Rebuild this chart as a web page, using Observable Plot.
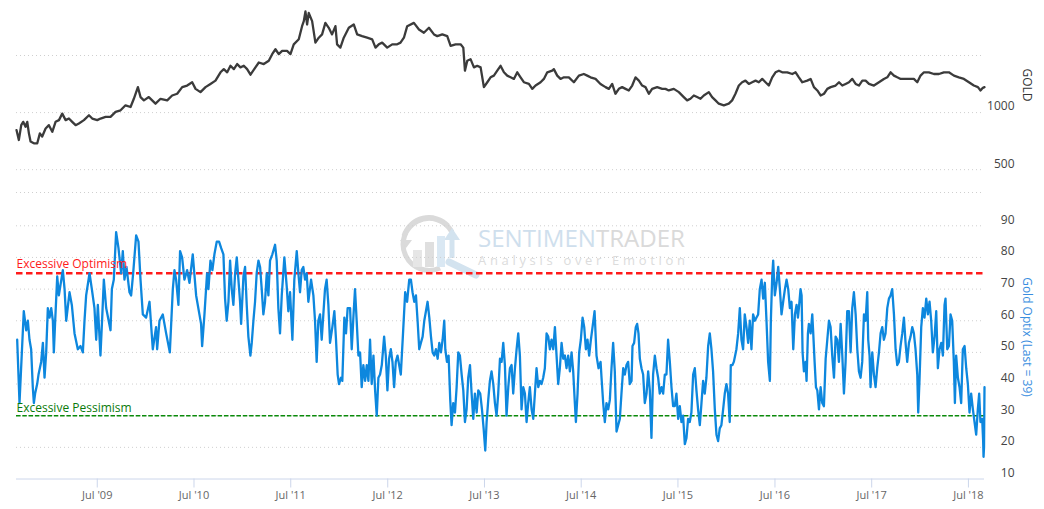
<!DOCTYPE html>
<html>
<head>
<meta charset="utf-8">
<script src="https://cdn.jsdelivr.net/npm/d3@7"></script>
<script src="https://cdn.jsdelivr.net/npm/@observablehq/plot@0.6"></script>
<style>
  html, body { margin: 0; padding: 0; background: #fff; }
  #wrap { position: relative; width: 1044px; height: 509px; overflow: hidden; font-family: "Open Sans", sans-serif; }
  #wm, #topPanel, #bottomPanel { position: absolute; left: 0; }
  #wm { top: 0; }
  #topPanel { top: 0; }
  #bottomPanel { top: 200px; }
  .ttl { position: absolute; white-space: nowrap; font-size: 12px; transform: translate(-50%, -50%) rotate(90deg); }
</style>
</head>
<body>
<div id="wrap">
  <svg id="wm" width="1044" height="509">
    <g opacity="0.9">
      <path d="M 452 232 A 26 26 0 1 0 440 268" fill="none" stroke="#d6d6d6" stroke-width="5"/>
      <path d="M 404 236 A 26 26 0 0 1 448 226" fill="none" stroke="#d6d6d6" stroke-width="5"/>
      <path d="M 449 262 L 476 275" stroke="#cfe0ee" stroke-width="7" stroke-linecap="round"/>
      <path d="M 452 258 L 452 236" stroke="#cfe0ee" stroke-width="5"/>
      <path d="M 444 240 L 452 228 L 460 240 Z" fill="#cfe0ee"/>
      <path d="M 400 240 L 406 248 L 412 240 Z" fill="#d6d6d6"/>
      <rect x="413" y="250" width="9" height="17" fill="#e4e4e4"/>
      <rect x="425" y="242" width="9" height="25" fill="#dcdcdc"/>
      <rect x="437" y="236" width="8" height="31" fill="#d7e6f2"/>
      <text x="478" y="247" font-family="Open Sans" font-size="24" textLength="207" lengthAdjust="spacingAndGlyphs"><tspan fill="#cadcec">SENTIMEN</tspan><tspan fill="#d6d6d6">TRADER</tspan></text>
      <text x="478" y="265" font-family="Open Sans" font-size="13" fill="#d9d9d9" textLength="207" lengthAdjust="spacing">Analysis over Emotion</text>
    </g>
  </svg>
  <div id="topPanel"></div>
  <div id="bottomPanel"></div>
  <div class="ttl" style="left:1027px; top:85px; color:#333;">GOLD</div>
  <div class="ttl" style="left:1027px; top:337px; color:#3a8ee0;">Gold Optix (Last = 39)</div>
</div>
<script>
// ---------------- data ----------------
const goldYears = [
2008.662,2008.686,2008.711,2008.731,2008.755,2008.773,2008.790,2008.807,2008.841,2008.876,
2008.903,2008.927,2008.962,2008.996,2009.031,2009.065,2009.100,2009.134,2009.169,2009.203,
2009.237,2009.272,2009.306,2009.358,2009.410,2009.444,2009.496,2009.530,2009.582,2009.633,
2009.685,2009.737,2009.788,2009.840,2009.874,2009.916,2009.943,2009.978,2010.029,2010.098,
2010.150,2010.219,2010.270,2010.322,2010.374,2010.425,2010.477,2010.512,2010.563,2010.615,
2010.666,2010.718,2010.770,2010.804,2010.839,2010.873,2010.908,2010.942,2010.976,2011.011,
2011.045,2011.080,2011.131,2011.166,2011.217,2011.269,2011.304,2011.338,2011.372,2011.407,
2011.458,2011.493,2011.527,2011.579,2011.613,2011.631,2011.648,2011.665,2011.682,2011.717,
2011.751,2011.786,2011.820,2011.854,2011.889,2011.923,2011.958,2011.975,2012.009,2012.044,
2012.096,2012.147,2012.182,2012.233,2012.285,2012.337,2012.371,2012.405,2012.440,2012.492,
2012.543,2012.595,2012.629,2012.664,2012.698,2012.767,2012.819,2012.870,2012.922,2012.974,
2013.008,2013.060,2013.111,2013.146,2013.197,2013.249,2013.277,2013.294,2013.318,2013.352,
2013.387,2013.421,2013.456,2013.490,2013.525,2013.559,2013.593,2013.628,2013.662,2013.697,
2013.731,2013.766,2013.800,2013.835,
2013.869,2013.903,2013.955,2013.990,2014.024,2014.076,2014.110,2014.145,2014.196,2014.213,
2014.248,2014.282,2014.317,2014.368,2014.420,2014.472,2014.523,2014.558,2014.592,2014.644,
2014.695,2014.747,2014.782,2014.816,2014.850,2014.885,2014.919,2014.954,2014.988,2015.023,
2015.057,2015.092,2015.126,2015.160,2015.195,2015.229,2015.281,2015.333,2015.367,2015.401,
2015.453,2015.505,2015.556,2015.591,2015.625,2015.660,2015.694,2015.729,2015.763,2015.815,
2015.849,2015.884,2015.918,2015.970,2016.021,2016.056,2016.090,2016.125,2016.159,2016.193,
2016.228,2016.262,2016.297,2016.331,2016.366,2016.400,2016.434,2016.469,2016.503,2016.538,
2016.572,2016.624,2016.676,2016.710,2016.744,2016.779,2016.830,2016.865,2016.899,2016.934,
2016.968,2017.003,2017.037,2017.072,2017.123,2017.158,2017.192,2017.226,2017.261,2017.295,
2017.330,2017.364,2017.399,2017.433,2017.468,2017.519,2017.571,2017.622,2017.657,2017.691,
2017.726,2017.760,2017.795,2017.846,2017.898,2017.932,2017.967,2018.001,2018.036,2018.087,
2018.139,2018.191,2018.242,2018.294,2018.346,2018.397,2018.449,2018.501,2018.552,2018.594,
2018.621,2018.645,2018.662
];
const goldValues = [
847,760,890,919,876,919,818,746,731,731,
818,790,861,890,832,919,934,991,934,948,
919,890,905,934,977,948,934,948,962,962,
1006,1020,1064,1049,1121,1223,1136,1107,1136,1078,
1121,1107,1150,1165,1223,1237,1266,1208,1179,1223,
1251,1280,1353,1381,1353,1410,1381,1425,1396,1410,
1381,1332,1396,1439,1425,1454,1512,1555,1512,1540,
1540,1512,1598,1642,1757,1801,1887,1772,1873,1801,
1613,1656,1685,1786,1743,1685,1757,1598,1569,1656,
1743,1772,1685,1670,1656,1642,1569,1598,1613,1569,
1598,1598,1613,1656,1757,1786,1728,1699,1743,1685,
1670,1685,1670,1584,1598,1598,1569,1367,1454,1468,
1396,1410,1396,1223,1266,1309,1324,1367,1410,1353,
1324,1309,1295,1353,
1309,1266,1251,1208,1237,1266,1295,1353,1367,1381,
1324,1295,1309,1309,1266,1324,1338,1324,1309,1295,
1251,1223,1208,1251,1165,1208,1223,1208,1194,1237,
1309,1280,1237,1223,1165,1208,1223,1208,1208,1194,
1208,1179,1136,1107,1121,1150,1136,1121,1150,1179,
1136,1107,1078,1064,1078,1107,1165,1237,1266,1280,
1251,1266,1280,1266,1295,1266,1237,1309,1353,1367,
1353,1353,1338,1353,1309,1266,1280,1295,1223,1194,
1150,1165,1208,1223,1237,1266,1237,1251,1266,1295,
1251,1237,1280,1280,1251,1237,1266,1295,1309,1353,
1324,1309,1295,1295,1295,1295,1266,1324,1353,1353,
1338,1338,1353,1353,1324,1309,1295,1266,1237,1223,
1194,1217,1223
];

const optixYears = [
2008.669,2008.693,2008.737,2008.762,2008.779,2008.796,2008.813,2008.830,2008.841,2008.854,
2008.875,2008.889,2008.916,2008.934,2008.951,2008.968,2008.985,2009.003,2009.020,2009.037,
2009.047,2009.061,2009.082,2009.099,2009.140,2009.158,2009.175,2009.209,2009.233,2009.261,
2009.295,2009.323,2009.347,2009.364,2009.381,2009.416,2009.440,2009.467,2009.485,2009.502,
2009.529,2009.547,2009.564,2009.588,2009.633,2009.647,2009.667,2009.691,2009.715,2009.743,
2009.760,2009.777,2009.798,2009.829,2009.846,2009.867,2009.898,2009.922,2009.943,2009.967,
2010.001,2010.036,2010.070,2010.104,2010.115,2010.139,2010.173,2010.208,2010.246,2010.277,
2010.294,2010.311,2010.335,2010.352,2010.373,2010.397,2010.425,2010.449,2010.483,2010.518,
2010.552,2010.569,2010.580,2010.604,2010.631,2010.645,2010.666,2010.686,
2010.707,2010.731,2010.755,2010.776,2010.800,2010.817,2010.834,2010.852,2010.869,2010.886,
2010.903,2010.921,2010.938,2010.955,2010.972,2010.983,2011.007,2011.024,2011.041,2011.058,
2011.079,2011.093,2011.110,2011.127,2011.144,2011.162,2011.179,2011.196,2011.213,2011.230,
2011.248,2011.265,2011.282,2011.306,2011.334,2011.351,2011.368,2011.385,2011.403,2011.430,
2011.454,2011.471,2011.489,2011.513,2011.533,2011.558,2011.575,2011.592,2011.609,2011.626,
2011.644,2011.661,2011.678,2011.706,2011.730,2011.747,2011.764,2011.781,2011.799,2011.816,
2011.833,2011.850,2011.867,2011.885,2011.902,2011.926,2011.947,2011.964,2011.981,2011.995,
2012.016,2012.029,2012.050,2012.067,2012.084,2012.109,2012.126,2012.143,2012.160,2012.177,
2012.195,2012.212,2012.229,2012.246,2012.264,2012.281,2012.298,2012.315,2012.332,2012.350,
2012.367,2012.384,2012.401,2012.418,2012.436,2012.460,2012.477,2012.494,2012.511,2012.529,
2012.546,2012.563,2012.580,2012.598,2012.615,2012.632,2012.653,2012.677,2012.697,
2012.719,2012.736,2012.753,2012.771,2012.788,2012.805,2012.822,2012.839,2012.857,2012.874,
2012.891,2012.908,2012.926,2012.943,2012.960,2012.977,2012.994,2013.012,2013.029,2013.046,
2013.063,2013.080,2013.091,2013.108,2013.125,2013.142,2013.156,2013.173,2013.191,2013.208,
2013.225,2013.242,2013.260,2013.277,2013.294,2013.311,2013.328,2013.346,2013.363,2013.380,
2013.397,2013.415,2013.432,2013.452,2013.470,2013.487,2013.504,2013.518,2013.535,2013.552,
2013.569,2013.587,2013.604,2013.621,2013.638,2013.656,2013.673,2013.690,2013.707,2013.724,
2013.742,2013.759,2013.776,2013.793,2013.811,2013.828,2013.845,2013.862,2013.879,2013.897,
2013.914,2013.931,2013.948,2013.965,2013.983,2014.000,2014.017,2014.034,2014.052,2014.069,
2014.086,2014.103,2014.120,2014.138,2014.155,2014.172,2014.189,2014.207,2014.224,2014.241,
2014.258,2014.275,2014.293,2014.310,2014.327,2014.344,2014.361,2014.379,2014.396,2014.413,
2014.430,2014.441,2014.458,2014.475,2014.492,2014.510,2014.527,2014.544,2014.561,2014.578,
2014.596,2014.613,2014.634,2014.654,2014.675,2014.696,
2014.706,2014.723,2014.740,2014.757,2014.775,2014.792,2014.809,2014.826,2014.843,2014.861,
2014.878,2014.895,2014.912,2014.930,2014.947,2014.964,2014.981,2014.998,2015.016,2015.026,
2015.043,2015.060,2015.074,2015.088,2015.102,2015.119,2015.136,2015.153,2015.171,2015.188,
2015.205,2015.222,2015.239,2015.257,2015.274,2015.291,2015.308,2015.326,2015.343,2015.360,
2015.377,2015.394,2015.412,2015.429,2015.446,2015.463,2015.480,2015.498,2015.515,2015.532,
2015.549,2015.567,2015.584,2015.601,2015.618,2015.635,2015.653,2015.670,2015.687,2015.704,
2015.722,2015.739,2015.756,2015.773,2015.790,2015.808,2015.825,2015.842,2015.859,2015.877,
2015.894,2015.911,2015.928,2015.945,2015.963,2015.980,2015.997,2016.014,2016.031,2016.042,
2016.059,2016.073,2016.087,2016.100,2016.118,2016.135,2016.152,2016.169,2016.186,2016.204,
2016.221,2016.238,2016.255,2016.272,2016.290,2016.307,2016.324,2016.341,2016.359,2016.376,
2016.393,2016.410,2016.427,2016.445,2016.455,2016.469,2016.479,2016.496,2016.514,2016.531,
2016.548,2016.565,2016.582,2016.600,2016.617,2016.634,2016.651,2016.668,2016.686,2016.700,
2016.703,2016.720,2016.734,2016.744,2016.761,2016.772,2016.782,2016.796,2016.813,2016.823,
2016.837,2016.847,2016.865,2016.882,2016.892,2016.906,2016.920,2016.934,2016.951,2016.968,
2016.985,2017.002,2017.020,2017.037,2017.054,2017.071,2017.088,2017.106,2017.123,2017.140,
2017.157,2017.175,2017.192,2017.209,2017.226,2017.243,2017.261,2017.278,2017.295,2017.312,
2017.330,2017.347,2017.364,2017.381,2017.398,2017.416,2017.433,2017.450,2017.460,2017.474,
2017.484,2017.502,2017.519,2017.536,2017.553,2017.571,2017.588,2017.605,2017.622,2017.639,
2017.657,2017.674,2017.691,2017.708,2017.726,2017.743,2017.760,2017.777,2017.794,2017.812,
2017.829,2017.846,2017.863,2017.881,2017.898,2017.915,2017.932,2017.949,2017.967,2017.977,
2017.991,2018.008,2018.025,2018.042,2018.060,2018.077,2018.094,2018.111,2018.128,2018.146,
2018.163,2018.180,2018.197,2018.215,2018.232,2018.249,2018.259,2018.277,2018.294,2018.311,
2018.328,2018.345,2018.356,2018.369,2018.387,2018.404,2018.421,2018.438,2018.456,2018.473,
2018.490,2018.507,2018.524,2018.542,2018.559,2018.576,2018.593,2018.607,2018.620,2018.638,
2018.648,2018.652,2018.657,2018.662
];
const optixValues = [
54,34,63,57,60,54,51,39,34,37,
40,43,47,53,42,50,64,61,64,60,
50,60,74,68,76,70,60,69,65,56,
51,52,50,60,68,75,70,64,54,65,
49,61,73,64,57,70,73,88,83,75,
82,73,77,69,68,75,87,85,73,62,
61,66,51,58,51,60,62,56,50,70,
76,73,65,82,80,73,76,72,81,68,
62,59,52,62,75,70,79,76,
81,85,85,83,81,67,60,66,79,70,
65,75,80,73,66,59,74,77,65,55,
49,53,60,66,75,79,77,70,62,66,
75,68,79,81,84,79,64,56,68,80,
71,63,69,54,73,82,75,69,76,77,
73,75,66,73,68,60,47,60,62,54,
62,70,73,65,53,58,63,54,43,40,
42,41,61,56,64,64,51,61,70,60,
49,50,39,46,41,46,41,54,40,49,
38,30,42,43,46,55,49,38,48,51,
47,39,47,49,46,43,55,69,66,
73,73,69,66,68,60,51,53,55,60,
63,66,61,55,50,49,51,48,53,50,
54,60,51,47,49,35,27,34,31,39,
50,49,43,38,28,32,42,46,37,29,
37,31,38,37,32,26,19,28,35,41,
44,40,34,30,37,48,47,53,46,30,
39,45,46,37,45,51,56,49,32,39,
37,28,34,39,32,29,37,45,39,41,
40,42,45,56,55,51,54,51,58,49,
40,45,53,48,49,45,49,44,50,44,
34,28,37,50,54,61,58,51,54,49,
54,58,63,49,45,47,
42,34,28,34,32,35,45,53,44,25,
27,29,37,45,43,46,47,40,41,52,
53,58,59,56,48,45,43,34,37,44,
38,23,43,49,45,42,37,39,37,43,
43,54,47,39,33,33,37,29,33,28,
30,21,23,29,28,31,43,45,38,32,
27,34,41,37,42,52,56,51,44,32,
24,22,26,27,32,37,40,37,28,46,
46,47,49,51,56,64,54,51,62,58,
53,60,51,62,60,61,62,70,73,67,
72,60,47,41,60,74,79,68,72,77,
70,62,66,70,73,70,64,66,51,60,
62,65,61,64,70,68,50,44,47,41,
56,59,56,62,56,47,39,38,32,39,
34,33,48,54,60,58,49,42,55,54,
47,59,49,37,47,63,63,50,64,69,
62,51,44,42,47,62,60,69,54,49,
39,50,43,39,45,50,56,58,54,56,
64,67,68,70,62,51,46,47,52,56,
61,53,47,53,55,58,56,51,43,31,
42,58,64,61,67,62,66,60,50,55,
63,45,51,53,49,65,67,51,52,62,
60,47,34,49,42,39,34,51,52,45,
40,31,37,32,28,24,32,37,28,29,
22,17,20,39
];

const xStartYear = 2008.662;
const xEndYear = 2018.662;
const tickYears = [2009, 2010, 2011, 2012, 2013, 2014, 2015, 2016, 2017, 2018];
const tickLabels = ["Jul '09", "Jul '10", "Jul '11", "Jul '12", "Jul '13", "Jul '14", "Jul '15", "Jul '16", "Jul '17", "Jul '18"];
const goldTicks = [1000, 500];
const goldGrid = [1500, 1000, 500, 300];
const goldDomain = [300, 1982];
const optixTicks = [10, 20, 30, 40, 50, 60, 70, 80, 90];
const optixGrid = [20, 30, 40, 50, 60, 70, 80, 90];
const optimismLevel = 75;
const pessimismLevel = 30;

// ---------------- helpers ----------------
function yearToDate(y) {
  const yr = Math.floor(y);
  const a = Date.UTC(yr, 0, 1), b = Date.UTC(yr + 1, 0, 1);
  return new Date(a + (y - yr) * (b - a));
}
const xDomain = [yearToDate(xStartYear), yearToDate(xEndYear)];
const goldData = goldYears.map((y, i) => ({date: yearToDate(y), v: goldValues[i]}));
const optixData = optixYears.map((y, i) => ({date: yearToDate(y), v: optixValues[i]}));
const tickDates = tickYears.map(y => new Date(Date.UTC(y, 6, 1)));
const fmtTick = d => tickLabels[tickYears.indexOf(d.getUTCFullYear())];

const gridStyle = {stroke: "#cfcfcf", strokeDasharray: "1,3", strokeWidth: 1};
const baseStyle = {background: "transparent", fontFamily: "Open Sans, sans-serif", fontSize: "12px", overflow: "visible"};

// ---------------- top: GOLD ----------------
const topChart = Plot.plot({
  width: 1044, height: 200,
  marginLeft: 16, marginRight: 60, marginTop: 0, marginBottom: 8,
  style: baseStyle,
  x: {type: "utc", domain: xDomain, axis: null},
  y: {domain: goldDomain, axis: null},
  marks: [
    Plot.ruleY(goldGrid, gridStyle),
    Plot.line(goldData, {x: "date", y: "v", stroke: "#3b3b3b", strokeWidth: 2.3}),
    Plot.axisY(goldTicks, {anchor: "right", tickSize: 0, tickPadding: 0, textAnchor: "end", dx: 30, dy: -6,
      tickFormat: d => String(d), fill: "#444", fontSize: 12, label: null})
  ]
});
document.getElementById("topPanel").appendChild(topChart);

// ---------------- bottom: Gold Optix ----------------
const bottomChart = Plot.plot({
  width: 1044, height: 309,
  marginLeft: 16, marginRight: 60, marginTop: 25.3, marginBottom: 30.5,
  style: baseStyle,
  x: {type: "utc", domain: xDomain, axis: null},
  y: {domain: [10, 90], axis: null},
  marks: [
    Plot.ruleY(optixGrid, gridStyle),
    Plot.ruleY([10], {stroke: "#ccd6eb", strokeWidth: 1}),
    Plot.axisX(tickDates, {anchor: "bottom", tickSize: 9, tickPadding: 3, stroke: "#ccd6eb",
      fill: "#666", fontSize: 11, tickFormat: fmtTick, label: null}),
    Plot.axisY(optixTicks, {anchor: "right", tickSize: 0, tickPadding: 0, textAnchor: "end", dx: 30, dy: -6,
      tickFormat: d => String(d), fill: "#444", fontSize: 12, label: null}),
    Plot.ruleY([optimismLevel], {stroke: "#ff1a1a", strokeWidth: 2.5, strokeDasharray: "6.5,3.5"}),
    Plot.ruleY([pessimismLevel], {stroke: "#0a8a0a", strokeWidth: 1.5, strokeDasharray: "4.5,1.8"}),
    Plot.line(optixData, {x: "date", y: "v", stroke: "#0d87de", strokeWidth: 2.3}),
    Plot.text(["Excessive Optimism"], {y: optimismLevel, text: d => d, frameAnchor: "left", textAnchor: "start",
      dy: -9, fill: "#ff1a1a", fontSize: 12}),
    Plot.text(["Excessive Pessimism"], {y: pessimismLevel, text: d => d, frameAnchor: "left", textAnchor: "start",
      dy: -8, fill: "#0a7a0a", fontSize: 12})
  ]
});
document.getElementById("bottomPanel").appendChild(bottomChart);
</script>
</body>
</html>
